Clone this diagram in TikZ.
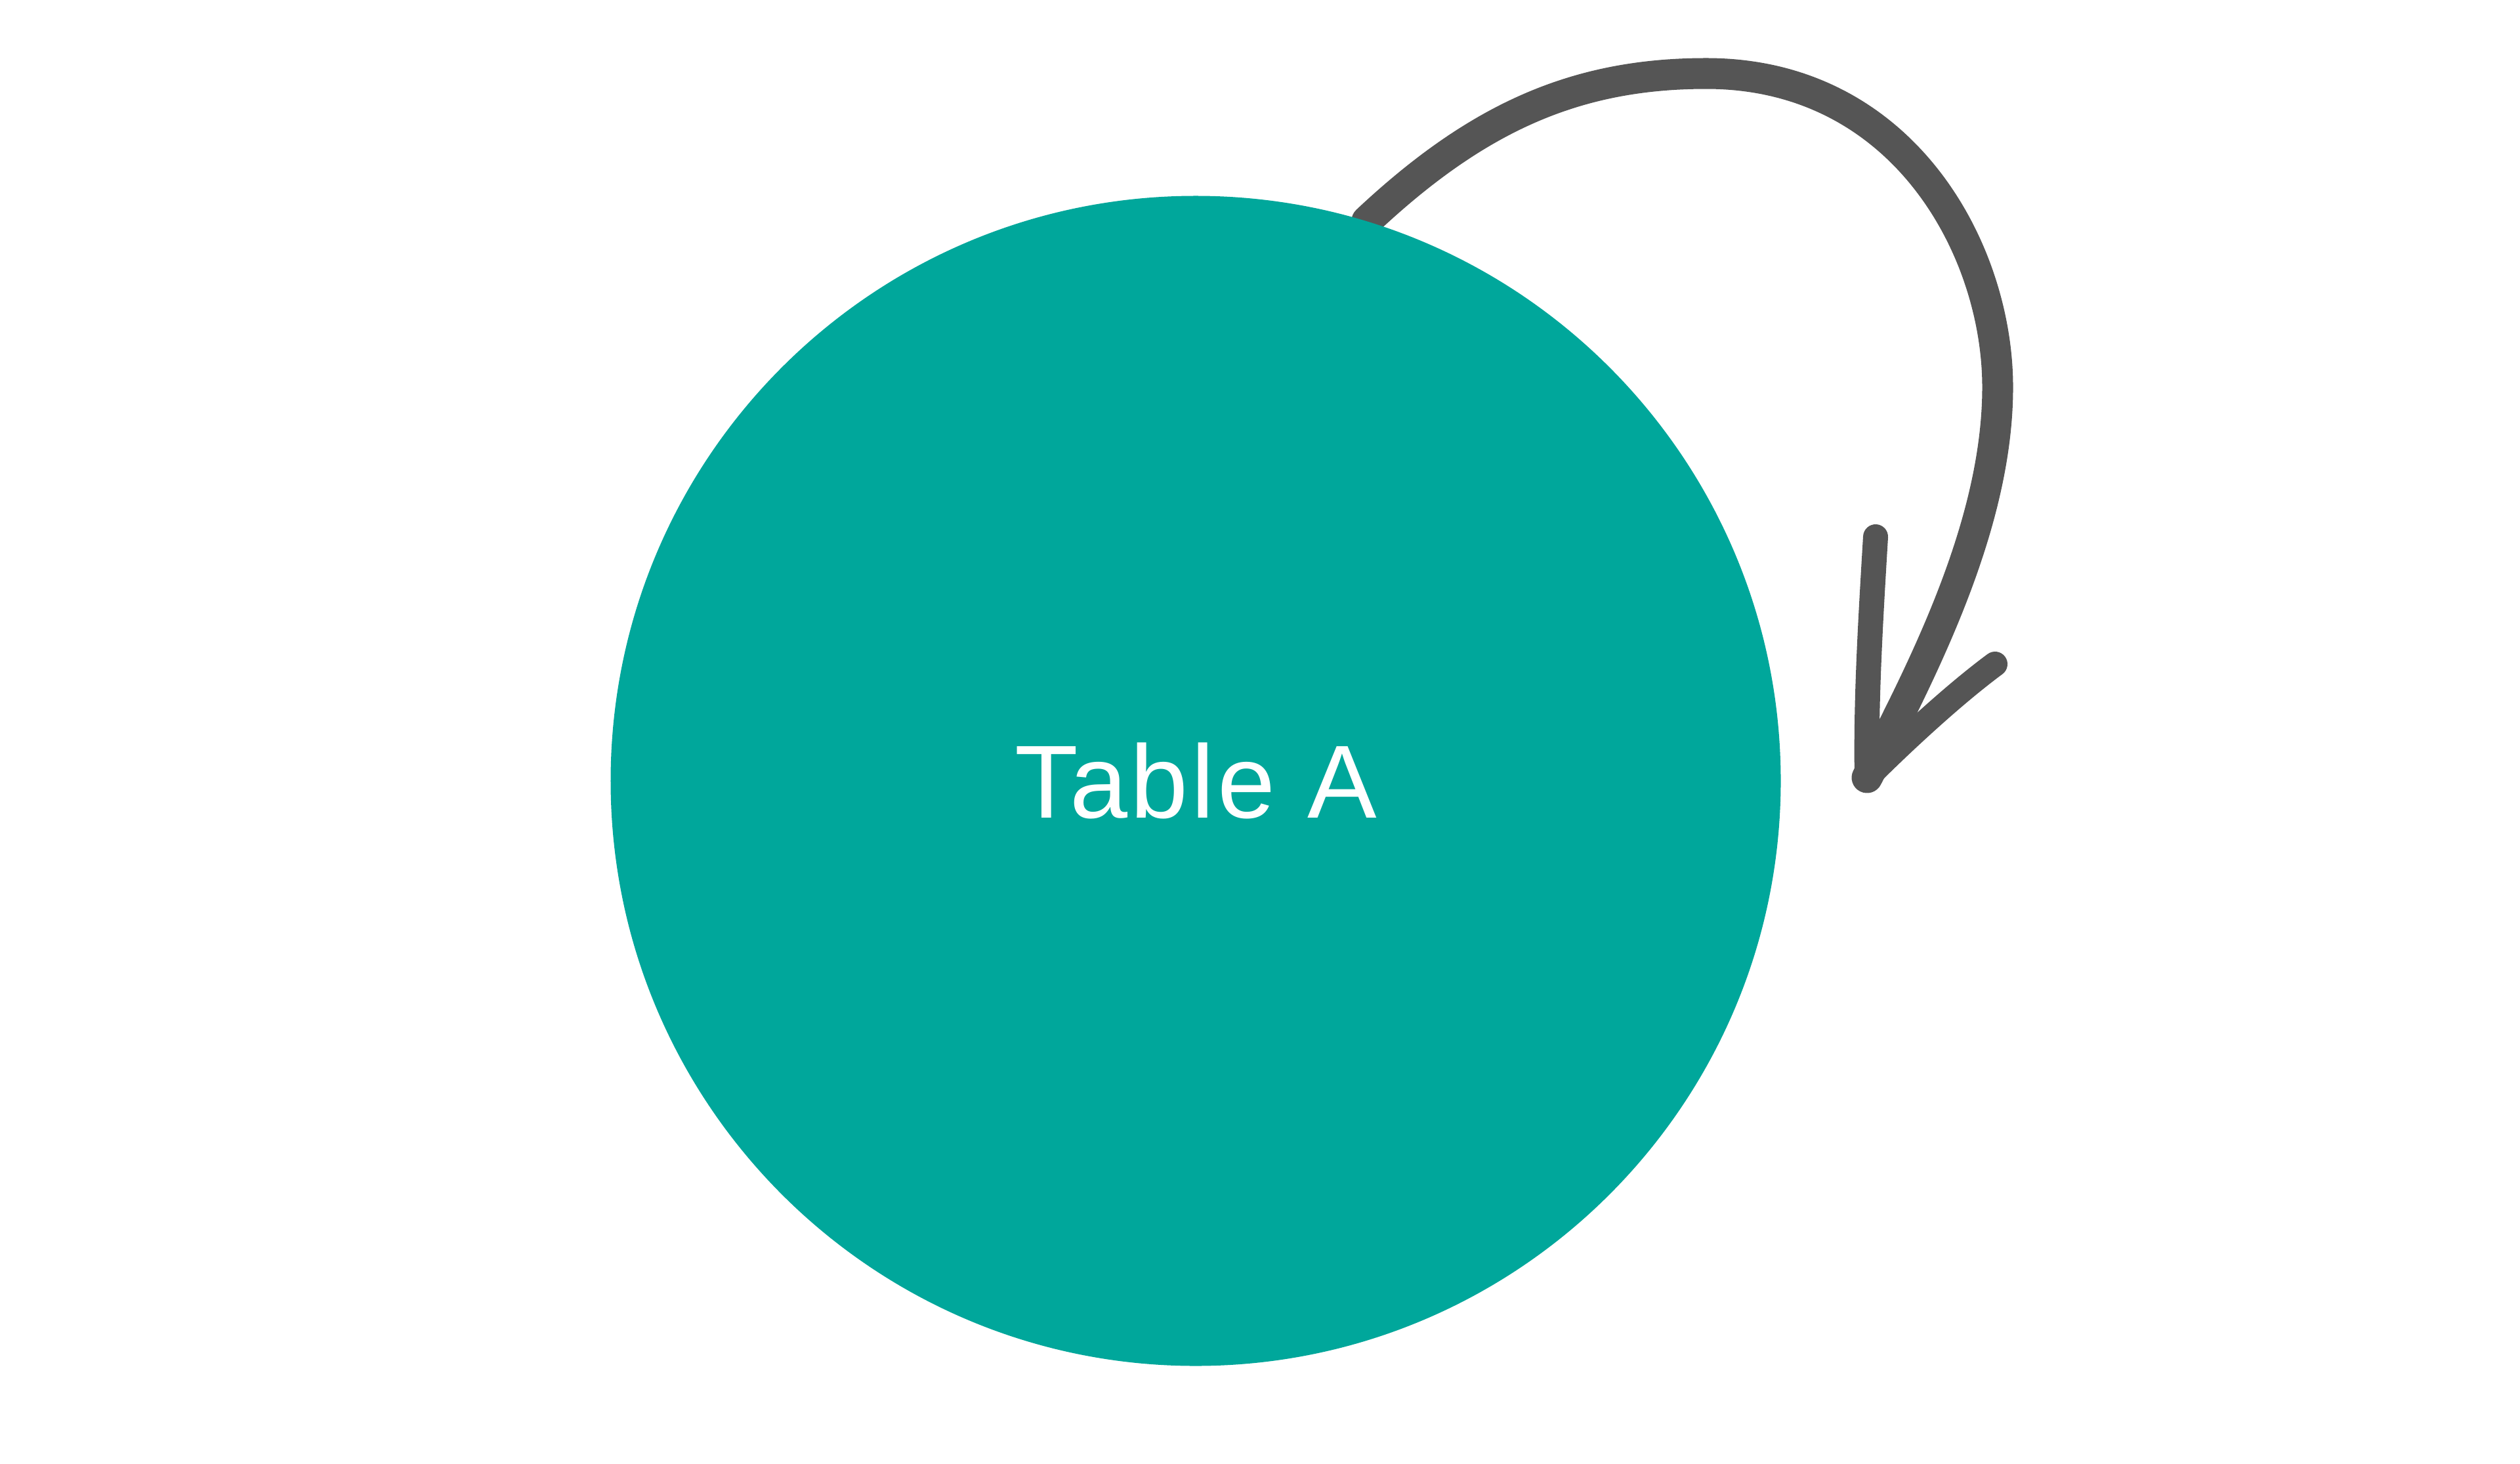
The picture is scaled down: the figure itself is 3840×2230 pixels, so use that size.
\documentclass[tikz,border=0pt]{standalone}
\usepackage{fontspec}
\setmainfont{Liberation Sans}
\usetikzlibrary{backgrounds}
\definecolor{tablecolor}{HTML}{00A79B}
\definecolor{arrowgrey}{HTML}{555555}

\begin{document}
\begin{tikzpicture}[x = 0.01cm, y = -0.01cm,
    every node/.style = { shape = circle, align = center },
    brush/.style = { draw = arrowgrey, line cap = round, line join = round }]
    \useasboundingbox (0,0) rectangle (3840,2230);
    \node [fill = tablecolor, text = white, minimum size = 17.82cm, inner sep = 0pt,
      font = \fontsize{45}{54}\selectfont\addfontfeatures{LetterSpace = 3}] (tableA) at (1822,1190) {Table A};
    \coordinate (top) at (2600,112);
    \coordinate (side) at (3044,590);
    \coordinate (tip) at (2845,1185);
    \coordinate (barbL) at (2858,818);
    \coordinate (barbR) at (3040,1012);
    \begin{pgfonlayer}{background}
      \draw [brush, line width = 0.47cm] (tableA.73)
        .. controls (2250,180) and (2400,112) .. (top)
        .. controls (2900,112) and (3044,380) .. (side)
        .. controls (3044,800) and (2930,1020) .. (tip);
      \draw [brush, line width = 0.38cm] (tip)
        .. controls (2843,1070) and (2850,950) .. (barbL);
      \draw [brush, line width = 0.38cm] (tip)
        .. controls (2895,1135) and (2975,1060) .. (barbR);
    \end{pgfonlayer}
\end{tikzpicture}
\end{document}
